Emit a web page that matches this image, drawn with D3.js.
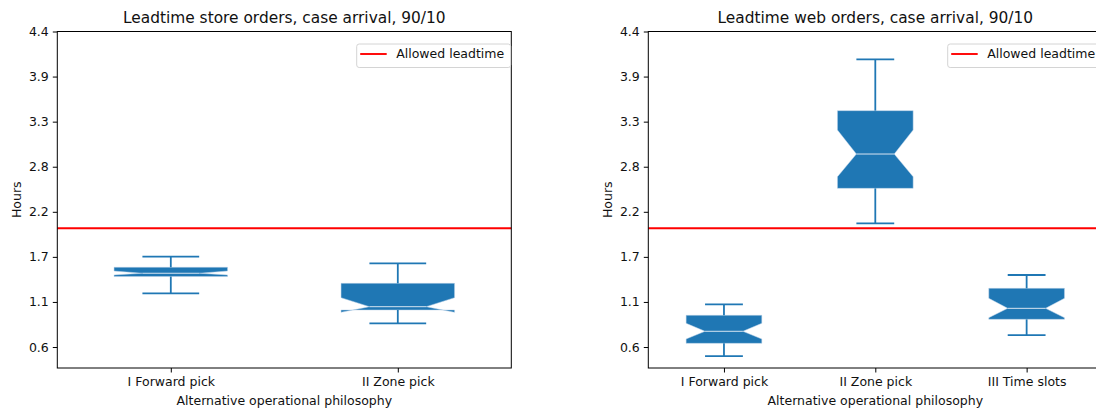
<!DOCTYPE html>
<html>
<head>
<meta charset="utf-8">
<script src="https://cdn.jsdelivr.net/npm/d3@7"></script>
<style>
  body { margin: 0; background: #fff; }
  svg { display: block; font-family: "DejaVu Sans", sans-serif; }
</style>
</head>
<body>
<div id="chart"></div>
<script>
// y axis ticks (labels are rounded like in the original)
var yTickValues = [0.55, 1.1, 1.65, 2.2, 2.75, 3.3, 3.85, 4.4];
var yTickLabels = ["0.6", "1.1", "1.7", "2.2", "2.8", "3.3", "3.9", "4.4"];
var yDomain = [0.294, 4.4];
var allowedLeadtime = 2.0;

// store orders
var storeCategories = ["I Forward pick", "II Zone pick"];
var storeWhiskerLow = [1.205, 0.839];
var storeQ1 = [1.410, 1.002];
var storeNotchLow = [1.430, 0.973];
var storeMedian = [1.450, 1.042];
var storeNotchHigh = [1.477, 1.152];
var storeQ3 = [1.523, 1.327];
var storeWhiskerHigh = [1.652, 1.571];

// web orders
var webCategories = ["I Forward pick", "II Zone pick", "III Time slots"];
var webWhiskerLow = [0.440, 2.059, 0.696];
var webQ1 = [0.595, 2.486, 0.888];
var webNotchLow = [0.648, 2.628, 0.908];
var webMedian = [0.742, 2.905, 1.022];
var webNotchHigh = [0.839, 3.198, 1.144];
var webQ3 = [0.937, 3.434, 1.266];
var webWhiskerHigh = [1.071, 4.061, 1.429];

function makeStats(cats, wlo, q1, clo, med, chi, q3, whi) {
  return cats.map(function (c, i) {
    return { name: c, pos: i + 1, whislo: wlo[i], q1: q1[i], cilo: clo[i], med: med[i],
      cihi: chi[i], q3: q3[i], whishi: whi[i] };
  });
}

var svg = d3.select("#chart").append("svg")
  .attr("width", 1096)
  .attr("height", 410);

function BoxPanel(_svg, _left, _title, _stats) {
  this.svg = _svg;
  this.left = _left;
  this.title = _title;
  this.data = _stats;
  this.initVis();
}

BoxPanel.prototype.initVis = function () {
  var vis = this;
  vis.top = 31.5;
  vis.width = 454;
  vis.height = 336.5;
  vis.blue = "#1f77b4";

  vis.g = vis.svg.append("g")
    .attr("transform", "translate(" + vis.left + "," + vis.top + ")");

  vis.x = d3.scaleLinear()
    .domain([0.5, vis.data.length + 0.5])
    .range([0, vis.width]);
  vis.y = d3.scaleLinear()
    .domain(yDomain)
    .range([vis.height, 0]);

  vis.yAxis = d3.axisLeft(vis.y)
    .tickValues(yTickValues)
    .tickFormat(function (d, i) { return yTickLabels[i]; })
    .tickSize(4.5)
    .tickPadding(4);
  vis.xAxis = d3.axisBottom(vis.x)
    .tickValues(vis.data.map(function (d) { return d.pos; }))
    .tickFormat(function (d) { return vis.data[d - 1].name; })
    .tickSize(4.5)
    .tickPadding(5);

  var ya = vis.g.append("g").attr("class", "y-axis").call(vis.yAxis);
  var xa = vis.g.append("g").attr("class", "x-axis")
    .attr("transform", "translate(0," + vis.height + ")")
    .call(vis.xAxis);
  [ya, xa].forEach(function (a) {
    a.select(".domain").remove();
    a.selectAll("text").attr("font-size", 12.5).attr("fill", "#111")
      .attr("font-family", "DejaVu Sans");
    a.selectAll("line").attr("stroke", "#000").attr("stroke-width", 1);
  });

  vis.updateVis();

  // spines
  vis.g.append("rect")
    .attr("x", 0).attr("y", 0)
    .attr("width", vis.width).attr("height", vis.height)
    .attr("fill", "none").attr("stroke", "#000").attr("stroke-width", 1);

  // titles and labels
  vis.g.append("text")
    .attr("x", vis.width / 2).attr("y", 22.5 - vis.top)
    .attr("text-anchor", "middle").attr("font-size", 15.4).attr("fill", "#111")
    .text(vis.title);
  vis.g.append("text")
    .attr("x", vis.width / 2).attr("y", 405 - vis.top)
    .attr("text-anchor", "middle").attr("font-size", 12.5).attr("fill", "#111")
    .text("Alternative operational philosophy");
  vis.g.append("text")
    .attr("transform", "translate(" + (20.5 - 57.3) + "," + (vis.height / 2) + ") rotate(-90)")
    .attr("text-anchor", "middle").attr("font-size", 12.5).attr("fill", "#111")
    .text("Hours");

  // legend
  var lg = vis.g.append("g").attr("transform", "translate(299.4," + (44 - vis.top) + ")");
  lg.append("rect")
    .attr("width", 154).attr("height", 23.5).attr("rx", 2.5)
    .attr("fill", "#fff").attr("fill-opacity", 0.8)
    .attr("stroke", "#d4d4d4").attr("stroke-width", 1);
  lg.append("line")
    .attr("x1", 3.5).attr("x2", 30).attr("y1", 10).attr("y2", 10)
    .attr("stroke", "red").attr("stroke-width", 1.9);
  lg.append("text")
    .attr("x", 39.5).attr("y", 14.4)
    .attr("font-size", 12.5).attr("fill", "#111")
    .text("Allowed leadtime");
}

BoxPanel.prototype.updateVis = function () {
  var vis = this;
  var bw = 0.5; // box width in data units

  var boxes = vis.g.selectAll(".box")
    .data(vis.data)
    .enter().append("g")
    .attr("class", "box");

  // notched box, same path order as matplotlib
  boxes.append("path")
    .attr("d", function (d) {
      var bl = d.pos - bw / 2, br = d.pos + bw / 2;
      var nl = d.pos - bw / 4, nr = d.pos + bw / 4;
      var px = [bl, br, br, nr, br, br, bl, bl, nl, bl, bl];
      var py = [d.q1, d.q1, d.cilo, d.med, d.cihi, d.q3, d.q3, d.cihi, d.med, d.cilo, d.q1];
      return d3.line()(px.map(function (v, i) { return [vis.x(v), vis.y(py[i])]; })) + "Z";
    })
    .attr("fill", vis.blue)
    .attr("stroke", "#bcd3e8")
    .attr("stroke-width", 0.5);

  // whiskers
  boxes.append("line")
    .attr("x1", function (d) { return vis.x(d.pos); })
    .attr("x2", function (d) { return vis.x(d.pos); })
    .attr("y1", function (d) { return vis.y(d.q1); })
    .attr("y2", function (d) { return vis.y(d.whislo); });
  boxes.append("line")
    .attr("x1", function (d) { return vis.x(d.pos); })
    .attr("x2", function (d) { return vis.x(d.pos); })
    .attr("y1", function (d) { return vis.y(d.q3); })
    .attr("y2", function (d) { return vis.y(d.whishi); });
  // caps
  ["whislo", "whishi"].forEach(function (k) {
    boxes.append("line")
      .attr("x1", function (d) { return vis.x(d.pos - bw / 4); })
      .attr("x2", function (d) { return vis.x(d.pos + bw / 4); })
      .attr("y1", function (d) { return vis.y(d[k]); })
      .attr("y2", function (d) { return vis.y(d[k]); });
  });
  boxes.selectAll("line")
    .attr("stroke", vis.blue)
    .attr("stroke-width", 1.8);

  // medians
  boxes.append("line")
    .attr("x1", function (d) { return vis.x(d.pos - bw / 4); })
    .attr("x2", function (d) { return vis.x(d.pos + bw / 4); })
    .attr("y1", function (d) { return vis.y(d.med); })
    .attr("y2", function (d) { return vis.y(d.med); })
    .attr("stroke", "#d6e4f1")
    .attr("stroke-width", 1);

  // allowed leadtime
  vis.g.append("line")
    .attr("x1", 0).attr("x2", vis.width)
    .attr("y1", vis.y(allowedLeadtime)).attr("y2", vis.y(allowedLeadtime))
    .attr("stroke", "red").attr("stroke-width", 1.9);
}

var storeStats = makeStats(storeCategories, storeWhiskerLow, storeQ1, storeNotchLow,
  storeMedian, storeNotchHigh, storeQ3, storeWhiskerHigh);
var webStats = makeStats(webCategories, webWhiskerLow, webQ1, webNotchLow,
  webMedian, webNotchHigh, webQ3, webWhiskerHigh);

new BoxPanel(svg, 57.3, "Leadtime store orders, case arrival, 90/10", storeStats);
new BoxPanel(svg, 648.3, "Leadtime web orders, case arrival, 90/10", webStats);
</script>
</body>
</html>
